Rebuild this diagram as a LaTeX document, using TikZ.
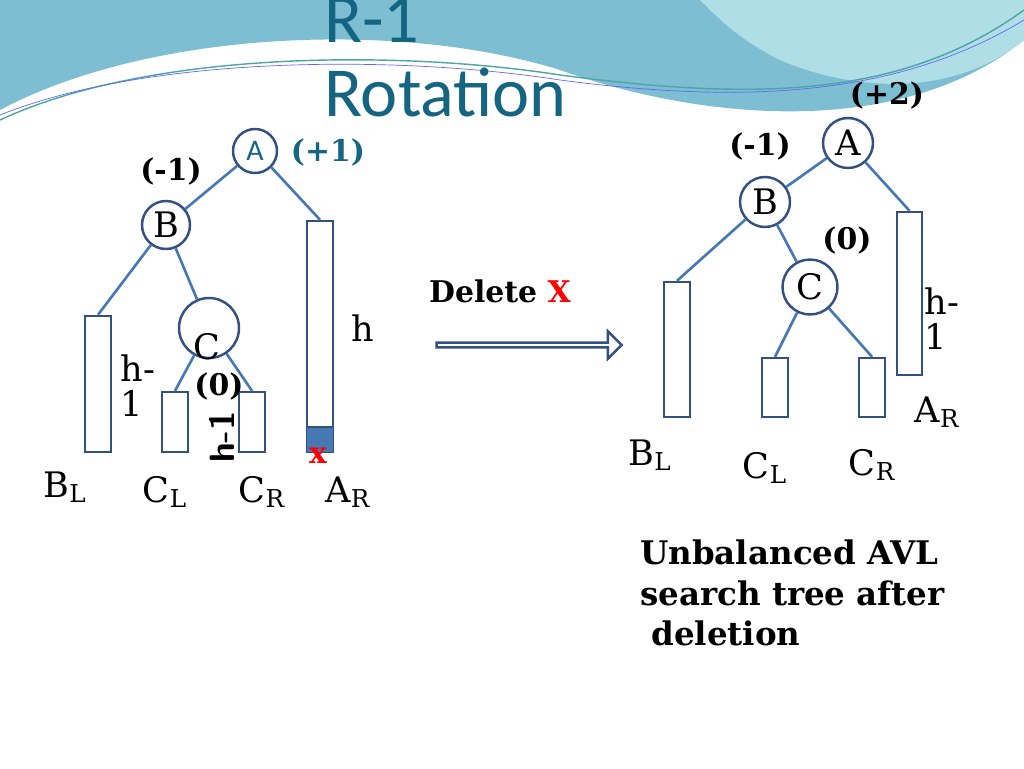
\documentclass[tikz,border=0pt]{standalone}
\usepackage{fontspec}
\setmainfont{DejaVu Serif}
\newfontfamily\titlefont{Carlito}
\usetikzlibrary{positioning,arrows.meta,shapes.arrows}
\definecolor{edge}{RGB}{70,120,180}
\definecolor{ring}{RGB}{50,80,130}
\definecolor{titleblue}{RGB}{20,100,130}
\definecolor{wave}{RGB}{125,190,210}
\definecolor{wavelight}{RGB}{175,222,230}
\tikzset{
  knot/.style={circle, draw=ring, line width=1.4pt, fill=white, inner sep=0pt},
  bar/.style={draw=ring, line width=1.4pt, fill=white},
  link/.style={edge, line width=1.5pt},
  bal/.style={font=\bfseries\fontsize{17}{17}\selectfont},
  lbl/.style={font=\fontsize{20}{20}\selectfont},
  head/.style={text=titleblue, font=\titlefont\fontsize{40}{40}\selectfont, anchor=west},
}
\begin{document}
\begin{tikzpicture}[x=0.02cm, y=-0.02cm]
\useasboundingbox (0,0) rectangle (1024,768);
\fill[white] (0,0) rectangle (1024,768);

% background waves
\fill[wave] (0,0) -- (1024,0) -- (1024,40) .. controls (900,140) and (700,120) .. (560,70)
  .. controls (400,20) and (150,30) .. (0,110) -- cycle;
\fill[wavelight] (700,0) -- (1024,0) -- (1024,40) .. controls (950,100) and (850,90) .. (780,60) .. controls (740,40) and (720,20) .. (700,0);
\draw[teal!70, thick] (0,120) .. controls (150,50) and (400,50) .. (560,75) .. controls (750,100) and (900,100) .. (1024,10);
\draw[blue!60] (0,115) .. controls (150,55) and (400,55) .. (560,80) .. controls (750,105) and (900,95) .. (1024,20);

\node[head] (t1) at (318,20) {R-1};
\node[head] (t2) at (318,92) {Rotation};

% left tree
\node[knot, minimum size=0.88cm, font=\titlefont\fontsize{17}{17}\selectfont, text=titleblue] (A) at (255,151) {A};
\node[bal, text=titleblue] (Ab) at (328,152) {(+1)};
\node[knot, minimum size=0.96cm, lbl] (B) at (166,225) {B};
\node[bal] (Bb) at (171,171) {(-1)};
\node[knot, minimum size=1.2cm] (C) at (209,328) {};
\node[lbl] (Ct) at (207,347) {C};
\node[bar, minimum width=0.52cm, minimum height=4.62cm] (AR) at (320,336.5) {};
\fill[edge] (307,427) rectangle (333,452);
\draw[ring, line width=1.4pt] (307,427) -- (333,427);
\node[text=red, font=\bfseries\fontsize{17}{17}\selectfont] (x) at (318,456) {x};
\node[bar, minimum width=0.52cm, minimum height=2.72cm] (BL) at (98,384) {};
\node[bar, minimum width=0.52cm, minimum height=1.2cm] (CL) at (175,422) {};
\node[bar, minimum width=0.52cm, minimum height=1.2cm] (CR) at (252,422) {};
\draw[link] (A) -- (B);
\draw[link] (A.south east) -- (AR.north);
\draw[link] (B) -- (BL.north);
\draw[link] (B) -- (C);
\draw[link] (C) -- (CL.north);
\draw[link] (C) -- (CR.north);
\node[bal] (Cb) at (219,386) {(0)};
\node[lbl, font=\sffamily\bfseries\fontsize{20}{20}\selectfont, rotate=90] (hc) at (222,437) {h-1};
\node[lbl, align=left] (hb) at (138,386) {h-\\1};
\node[lbl] (ha) at (363,328) {h};
\node[lbl] (BLt) at (65,487) {B\textsubscript{L}};
\node[lbl] (CLt) at (165,492) {C\textsubscript{L}};
\node[lbl] (CRt) at (262,492) {C\textsubscript{R}};
\node[lbl] (ARt) at (348,492) {A\textsubscript{R}};

% arrow
\node[single arrow, draw=ring, line width=1.4pt, fill=white, minimum height=3.7cm, minimum width=0.55cm, single arrow head extend=0.12cm, inner sep=0pt] (go) at (528,345) {};
\node[bal] (del) at (500,291) {Delete \textcolor{red}{X}};

% right tree
\node[knot, minimum size=1.0cm, lbl] (A2) at (848,143) {A};
\node[bal] (A2b) at (887,95) {(+2)};
\node[knot, minimum size=1.0cm, lbl] (B2) at (765,202) {B};
\node[bal] (B2b) at (760,146) {(-1)};
\node[knot, minimum size=1.1cm, lbl] (C2) at (810,287) {C};
\node[bal] (C2b) at (847,240) {(0)};
\node[bar, minimum width=0.5cm, minimum height=3.26cm] (AR2) at (909.5,293.5) {};
\node[bar, minimum width=0.52cm, minimum height=2.7cm] (BL2) at (677,349.5) {};
\node[bar, minimum width=0.52cm, minimum height=1.18cm] (CL2) at (775,387.5) {};
\node[bar, minimum width=0.52cm, minimum height=1.18cm] (CR2) at (872,387.5) {};
\draw[link] (A2) -- (B2);
\draw[link] (A2) -- (AR2.north);
\draw[link] (B2) -- (BL2.north);
\draw[link] (B2) -- (C2);
\draw[link] (C2) -- (CL2.north);
\draw[link] (C2) -- (CR2.north);
\node[lbl, align=left] (h2) at (942,319) {h-\\1};
\node[lbl] (AR2t) at (937,412) {A\textsubscript{R}};
\node[lbl] (BL2t) at (650,455) {B\textsubscript{L}};
\node[lbl] (CL2t) at (765,468) {C\textsubscript{L}};
\node[lbl] (CR2t) at (872,465) {C\textsubscript{R}};

\node[font=\bfseries\fontsize{18.5}{23}\selectfont, align=left, anchor=north west] (note) at (634,534) {Unbalanced AVL\\search tree after\\\ deletion};
\end{tikzpicture}
\end{document}
